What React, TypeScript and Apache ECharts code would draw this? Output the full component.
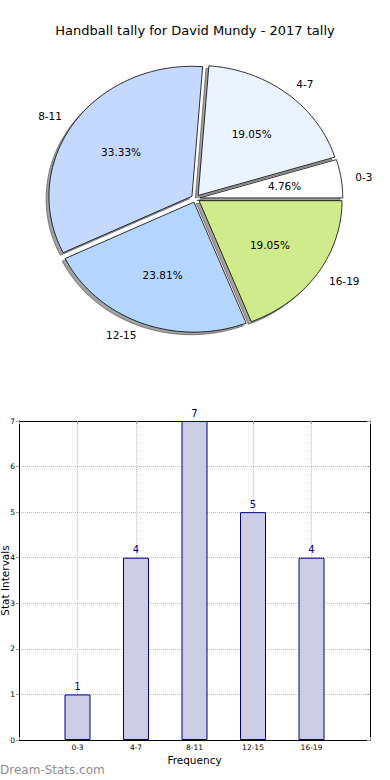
import React, { useEffect, useRef } from "react";
import * as echarts from "echarts";

// ---- data ----
const pieLabels = ["0-3", "4-7", "8-11", "12-15", "16-19"];
const pieValues = [1, 4, 7, 5, 4];
const pieColors = ["#ffffff", "#ebf3ff", "#c5d8fe", "#b4d5fe", "#cfeb8b"];

const barCategories = ["0-3", "4-7", "8-11", "12-15", "16-19"];
const barValues = [1, 4, 7, 5, 4];

const TITLE = "Handball tally for David Mundy - 2017 tally";
const X_NAME = "Frequency";
const Y_NAME = "Stat Intervals";
const WATERMARK = "Dream-Stats.com";

// ---- layout ----
const CX = 195.5;
const CY = 198.5;
const RX = 143;
const RY = 130;
const EXPLODE = 0.03;
const SHADOW = 0.02;
const FONT = '"DejaVu Sans", sans-serif';

export default function App() {
  const ref = useRef<HTMLDivElement>(null);

  useEffect(() => {
    if (!ref.current) return;
    const chart = echarts.init(ref.current, null, { renderer: "svg" });
    const total = pieValues.reduce((a, b) => a + b, 0);
    const before: number[] = [];
    let acc = 0;
    pieValues.forEach((v) => {
      before.push(acc);
      acc += v;
    });
    const pieData = pieValues.map((v, i) => [v, before[i], i]);

    // padded category list: an empty slot on each side of the bars
    const xCats = ["", ...barCategories, ""];

    const renderItem = (params: any, api: any) => {
      const v = api.value(0) as number;
      const b = api.value(1) as number;
      const i = params.dataIndex;
      const t1 = (b / total) * Math.PI * 2;
      const t2 = ((b + v) / total) * Math.PI * 2;
      const mid = (t1 + t2) / 2;
      const ox = CX + EXPLODE * RX * Math.cos(mid);
      const oy = CY - EXPLODE * RY * Math.sin(mid);
      const steps = Math.max(6, Math.ceil(((t2 - t1) / (Math.PI * 2)) * 240));
      const pts: number[][] = [[ox, oy]];
      for (let k = 0; k <= steps; k++) {
        const t = t1 + ((t2 - t1) * k) / steps;
        pts.push([ox + RX * Math.cos(t), oy - RY * Math.sin(t)]);
      }
      const sdx = -SHADOW * RX;
      const sdy = SHADOW * RY;
      const spts = pts.map((p) => [p[0] + sdx, p[1] + sdy]);
      const pct = ((v / total) * 100).toFixed(2) + "%";
      const c = Math.cos(mid);
      const s = Math.sin(mid);
      return {
        type: "group",
        children: [
          {
            type: "polygon",
            shape: { points: spts },
            style: { fill: "rgba(70,70,70,0.5)", stroke: "rgba(70,70,70,0.6)", lineWidth: 1 },
            z2: 1,
          },
          {
            type: "polygon",
            shape: { points: pts },
            style: { fill: pieColors[i], stroke: "#000", lineWidth: 0.8 },
            z2: 5,
          },
          {
            type: "text",
            x: ox + 0.6 * RX * c,
            y: oy - 0.6 * RY * s,
            style: {
              text: pct,
              fill: "#000",
              fontSize: 10.5,
              fontFamily: FONT,
              align: "center",
              verticalAlign: "middle",
              textAlign: "center",
              textVerticalAlign: "middle",
            },
            z2: 10,
          },
          {
            type: "text",
            x: ox + 1.1 * RX * c,
            y: oy - 1.1 * RY * s,
            style: {
              text: pieLabels[i],
              fill: "#000",
              fontSize: 10.5,
              fontFamily: FONT,
              align: c > 0 ? "left" : "right",
              verticalAlign: "middle",
              textAlign: c > 0 ? "left" : "right",
              textVerticalAlign: "middle",
            },
            z2: 10,
          },
        ],
      };
    };

    const gridLine = { show: true, lineStyle: { color: "#c0c0c0", type: "dotted", width: 1 } };
    const frameLine = { show: true, onZero: false, lineStyle: { color: "#000", width: 1 } };
    const tickStyle = { show: true, inside: true, length: 3, lineStyle: { color: "#999" } };

    chart.setOption({
      animation: false,
      backgroundColor: "#fff",
      title: {
        text: TITLE,
        left: "center",
        top: 19,
        textStyle: { fontSize: 13, fontWeight: "normal", color: "#000", fontFamily: FONT },
      },
      grid: {
        left: 19,
        right: 20,
        top: 421,
        bottom: 40,
        containLabel: false,
        outerBoundsMode: "none",
      },
      xAxis: [
        {
          type: "category",
          position: "bottom",
          data: xCats,
          boundaryGap: false,
          axisLine: frameLine,
          axisTick: tickStyle,
          splitLine: gridLine,
          axisLabel: {
            fontSize: 7.5,
            color: "#000",
            fontFamily: FONT,
            margin: 3,
            interval: 0,
          },
          name: X_NAME,
          nameLocation: "middle",
          nameGap: 14,
          nameMoveOverlap: false,
          nameTextStyle: { fontSize: 10.5, color: "#000", fontFamily: FONT },
        },
        {
          type: "category",
          position: "top",
          data: xCats,
          boundaryGap: false,
          axisLine: frameLine,
          axisTick: tickStyle,
          splitLine: { show: false },
          axisLabel: { show: false },
        },
      ],
      yAxis: [
        {
          type: "value",
          position: "left",
          min: 0,
          max: 7,
          interval: 1,
          axisLine: frameLine,
          axisTick: { show: true, inside: false, length: 3, lineStyle: { color: "#999" } },
          splitLine: gridLine,
          axisLabel: { fontSize: 7.5, color: "#000", fontFamily: FONT, margin: 4 },
          name: Y_NAME,
          nameLocation: "middle",
          nameRotate: 90,
          nameGap: 9,
          nameMoveOverlap: false,
          nameTextStyle: { fontSize: 10.5, color: "#000", fontFamily: FONT },
        },
        {
          type: "value",
          position: "right",
          min: 0,
          max: 7,
          interval: 1,
          axisLine: frameLine,
          axisTick: tickStyle,
          splitLine: { show: false },
          axisLabel: { show: false },
        },
      ],
      graphic: [
        {
          type: "text",
          left: 0,
          top: 764,
          style: { text: WATERMARK, fill: "#8e8e8e", fontSize: 12, fontFamily: FONT },
        },
      ],
      series: [
        {
          type: "custom",
          coordinateSystem: "none",
          silent: true,
          renderItem,
          data: pieData,
        },
        {
          type: "bar",
          xAxisIndex: 0,
          yAxisIndex: 0,
          barWidth: 26,
          data: barValues.map((v, i) => [i + 1, v]),
          itemStyle: { color: "#ccccE5", borderColor: "#000080", borderWidth: 1 },
          label: {
            show: true,
            position: "top",
            distance: 3,
            color: "#00008b",
            fontSize: 10,
            fontFamily: FONT,
          },
          z: 3,
        },
      ],
    });
    return () => chart.dispose();
  }, []);

  return (
    <div
      ref={ref}
      style={{ position: "fixed", left: 0, top: 0, width: 390, height: 780, background: "#fff" }}
    />
  );
}
